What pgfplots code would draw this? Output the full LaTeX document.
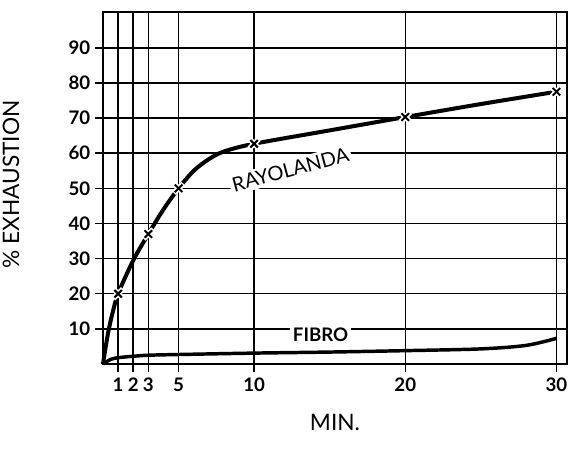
\documentclass[border=0pt]{standalone}
\usepackage{fontspec}
\setmainfont{Lato}
\usepackage{pgfplots}
\pgfplotsset{compat=1.18}

% exhaustion curves
\pgfplotstableread{
x y
0 0
0.3 8
0.6 14
1 20
2 29.5
3 37
4 44
5 50
6 55
7 58.3
8 60.5
10 62.7
15 66.5
20 70.3
25 74
30 77.5
}\rayolanda
\pgfplotstableread{
x y
0 0
0.5 1.3
1 1.8
2 2.2
3 2.5
5 2.7
10 3.1
15 3.4
20 3.8
25 4.3
28 5.3
30 7.3
}\fibro

\begin{document}
\begin{tikzpicture}
\useasboundingbox (0,0) rectangle (429pt,340.5pt);
\begin{axis}[
  at={(77.25pt,67.5pt)}, anchor=south west,
  scale only axis, width=348pt, height=264pt,
  xmin=0, xmax=30.7, ymin=0, ymax=100.2,
  xtick={1,2,3,5,10,20,30},
  ytick={10,20,...,90},
  grid=major,
  major grid style={black, line width=1.1pt},
  axis line style={line width=1.6pt},
  tick style={black, line width=1.1pt},
  tick align=outside, tick pos=left,
  major tick length=6pt,
  /pgf/number format/assume math mode=true,
  ticklabel style={font=\fontsize{14}{14}\selectfont\bfseries},
  xticklabel style={yshift=-1pt},
  xlabel={MIN.},
  ylabel={\% EXHAUSTION},
  label style={font=\fontsize{17}{17}\selectfont},
  xlabel style={at={(axis description cs:0.5,-0.13)}, anchor=north},
  ylabel style={at={(axis description cs:-0.17,0.51)}, anchor=south},
  clip=false,
]
\addplot[black, line width=3pt, smooth, tension=0.5] table {\rayolanda};
\addplot[black, line width=2.6pt, smooth, tension=0.5] table {\fibro};
\addplot[only marks, mark=x, mark size=5pt, white, line width=4pt]
  coordinates {(1,20) (3,37) (5,50) (10,62.7) (20,70.3) (30,77.5)};
\addplot[only marks, mark=x, mark size=4pt, black, line width=1.5pt]
  coordinates {(1,20) (3,37) (5,50) (10,62.7) (20,70.3) (30,77.5)};
\node[fill=white, inner sep=2pt, rotate=15, font=\fontsize{15}{15}\selectfont]
  at (axis cs:12.4,55.3) {RAYOLANDA};
\node[fill=white, inner sep=2pt, font=\fontsize{14}{14}\selectfont\bfseries]
  at (axis cs:14.4,8.3) {FIBRO};
\end{axis}
\end{tikzpicture}
\end{document}
